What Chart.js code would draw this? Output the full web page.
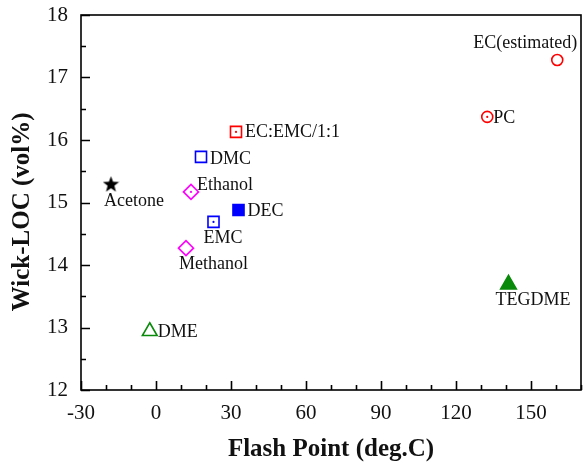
<!DOCTYPE html>
<html>
<head>
<meta charset="utf-8">
<script src="https://cdn.jsdelivr.net/npm/chart.js@4.4.1/dist/chart.umd.min.js"></script>
<style>
  html, body { margin: 0; padding: 0; background: #fff; }
  #wrap { width: 584px; height: 472px; }
</style>
</head>
<body>
<div id="wrap"><canvas id="chart" width="584" height="472"></canvas></div>
<script>
// data
const compounds = ['Acetone', 'Ethanol', 'Methanol', 'DMC', 'EMC', 'DEC', 'EC:EMC/1:1', 'PC', 'EC(estimated)', 'TEGDME', 'DME'];
const flashPoint = [-18, 14, 12, 18, 23, 33, 32, 132.5, 160.5, 141, -2.5];
const wickLoc = [15.30, 15.17, 14.27, 15.73, 14.69, 14.88, 16.13, 16.37, 17.28, 13.69, 12.94];
const xTicks = [-30, 0, 30, 60, 90, 120, 150];
const yTicks = [12, 13, 14, 15, 16, 17, 18];

const SERIF = "'Liberation Serif', 'Times New Roman', serif";
const RED = '#ff0000', BLUE = '#0000ff', MAG = '#ff00ff', GREEN = '#0a8a0a';

// marker look + label placement (dx, dy to baseline, align)
const look = {
  'Acetone':       { shape: 'star',     color: '#000', fill: true,  r: 8,   dot: false, lab: [-7, 22, 'left'] },
  'Ethanol':       { shape: 'rectRot',  color: MAG,    fill: false, r: 7.5, dot: true,  lab: [6, -2, 'left'] },
  'Methanol':      { shape: 'rectRot',  color: MAG,    fill: false, r: 7.5, dot: false, lab: [-7, 21, 'left'] },
  'DMC':           { shape: 'rect',     color: BLUE,   fill: false, r: 7.8, dot: false, lab: [9, 7, 'left'] },
  'EMC':           { shape: 'rect',     color: BLUE,   fill: false, r: 7.8, dot: true,  lab: [-10, 21, 'left'] },
  'DEC':           { shape: 'rect',     color: BLUE,   fill: true,  r: 7.8, dot: false, lab: [9, 6, 'left'] },
  'EC:EMC/1:1':    { shape: 'rect',     color: RED,    fill: false, r: 7.8, dot: true,  lab: [9, 5, 'left'] },
  'PC':            { shape: 'circle',   color: RED,    fill: false, r: 5.5, dot: true,  lab: [6, 6, 'left'] },
  'EC(estimated)': { shape: 'circle',   color: RED,    fill: false, r: 5.5, dot: false, lab: [20, -12, 'right'] },
  'TEGDME':        { shape: 'triangle', color: GREEN,  fill: true,  r: 9,   dot: false, lab: [-13, 21, 'left'] },
  'DME':           { shape: 'triangle', color: GREEN,  fill: false, r: 8.5, dot: false, lab: [8, 6, 'left'] }
};

function starImage(size, color) {
  const c = document.createElement('canvas');
  c.width = c.height = size;
  const g = c.getContext('2d');
  const R = size / 2, r = R * 0.42;
  g.beginPath();
  for (let i = 0; i < 10; i++) {
    const rad = i % 2 ? r : R;
    const a = -Math.PI / 2 + i * Math.PI / 5;
    g.lineTo(R + rad * Math.cos(a), R + 1 + rad * Math.sin(a));
  }
  g.closePath();
  g.fillStyle = color;
  g.fill();
  return c;
}

const datasets = compounds.map((name, i) => {
  const s = look[name];
  return {
    label: name,
    data: [{ x: flashPoint[i], y: wickLoc[i] }],
    pointStyle: s.shape === 'star' ? starImage(17, s.color) : s.shape,
    pointRadius: s.r,
    pointBorderWidth: 1.6,
    pointBorderColor: s.color,
    pointBackgroundColor: s.fill ? s.color : 'rgba(0,0,0,0)'
  };
});

// inward ticks + closed frame
const frameTicks = {
  id: 'frameTicks',
  afterDraw(chart) {
    const { ctx, chartArea: a, scales: { x, y } } = chart;
    ctx.save();
    ctx.strokeStyle = '#000';
    ctx.lineWidth = 1.6;
    ctx.strokeRect(a.left, a.top, a.right - a.left, a.bottom - a.top);
    ctx.beginPath();
    for (let v = -30; v <= 170; v += 10) {
      const px = Math.round(x.getPixelForValue(v)) + 0.5;
      const len = (v + 30) % 30 === 0 ? 9 : 5;
      ctx.moveTo(px, a.bottom);
      ctx.lineTo(px, a.bottom - len);
    }
    for (let v = 12; v <= 18; v += 0.5) {
      const py = Math.round(y.getPixelForValue(v)) + 0.5;
      const len = Number.isInteger(v) ? 9 : 5;
      ctx.moveTo(a.left, py);
      ctx.lineTo(a.left + len, py);
    }
    ctx.stroke();
    ctx.restore();
  }
};

// names next to the markers, centre dots
const pointNames = {
  id: 'pointNames',
  afterDatasetsDraw(chart) {
    const { ctx } = chart;
    ctx.save();
    ctx.font = '18px ' + SERIF;
    ctx.textBaseline = 'alphabetic';
    chart.data.datasets.forEach((ds, i) => {
      const el = chart.getDatasetMeta(i).data[0];
      const s = look[ds.label];
      if (s.dot) {
        ctx.fillStyle = s.color;
        ctx.beginPath();
        ctx.arc(el.x, el.y, 1.1, 0, Math.PI * 2);
        ctx.fill();
      }
      ctx.fillStyle = '#111';
      ctx.textAlign = s.lab[2];
      ctx.fillText(ds.label, el.x + s.lab[0], el.y + s.lab[1]);
    });
    ctx.restore();
  }
};

function noPad(s) {
  s.paddingLeft = s.paddingRight = s.paddingTop = s.paddingBottom = 0;
}

new Chart(document.getElementById('chart'), {
  type: 'scatter',
  data: { datasets },
  plugins: [frameTicks, pointNames],
  options: {
    responsive: false,
    animation: false,
    // autoPadding off: big markers would otherwise shrink the plot box
    layout: { autoPadding: false, padding: { top: 15, right: 3, left: 0, bottom: 0 } },
    plugins: { legend: { display: false }, tooltip: { enabled: false } },
    scales: {
      x: {
        min: -30, max: 170,
        afterFit: s => { s.height = 82; noPad(s); },
        afterBuildTicks: s => { s.ticks = xTicks.map(v => ({ value: v })); },
        grid: { display: false, drawTicks: false },
        border: { display: false },
        ticks: { color: '#111', padding: 11, font: { family: SERIF, size: 21 } },
        title: {
          display: true, text: 'Flash Point (deg.C)', color: '#111',
          font: { family: SERIF, size: 25, weight: 'bold' },
          padding: { top: 0, bottom: 7 }
        }
      },
      y: {
        min: 12, max: 18,
        afterFit: s => { s.width = 81; noPad(s); },
        afterBuildTicks: s => { s.ticks = yTicks.map(v => ({ value: v })); },
        grid: { display: false, drawTicks: false },
        border: { display: false },
        ticks: { color: '#111', padding: 13, font: { family: SERIF, size: 21 } },
        title: {
          display: true, text: 'Wick-LOC (vol%)   ', color: '#111',
          font: { family: SERIF, size: 25, weight: 'bold' },
          padding: { top: 8, bottom: 0 }
        }
      }
    }
  }
});
</script>
</body>
</html>
